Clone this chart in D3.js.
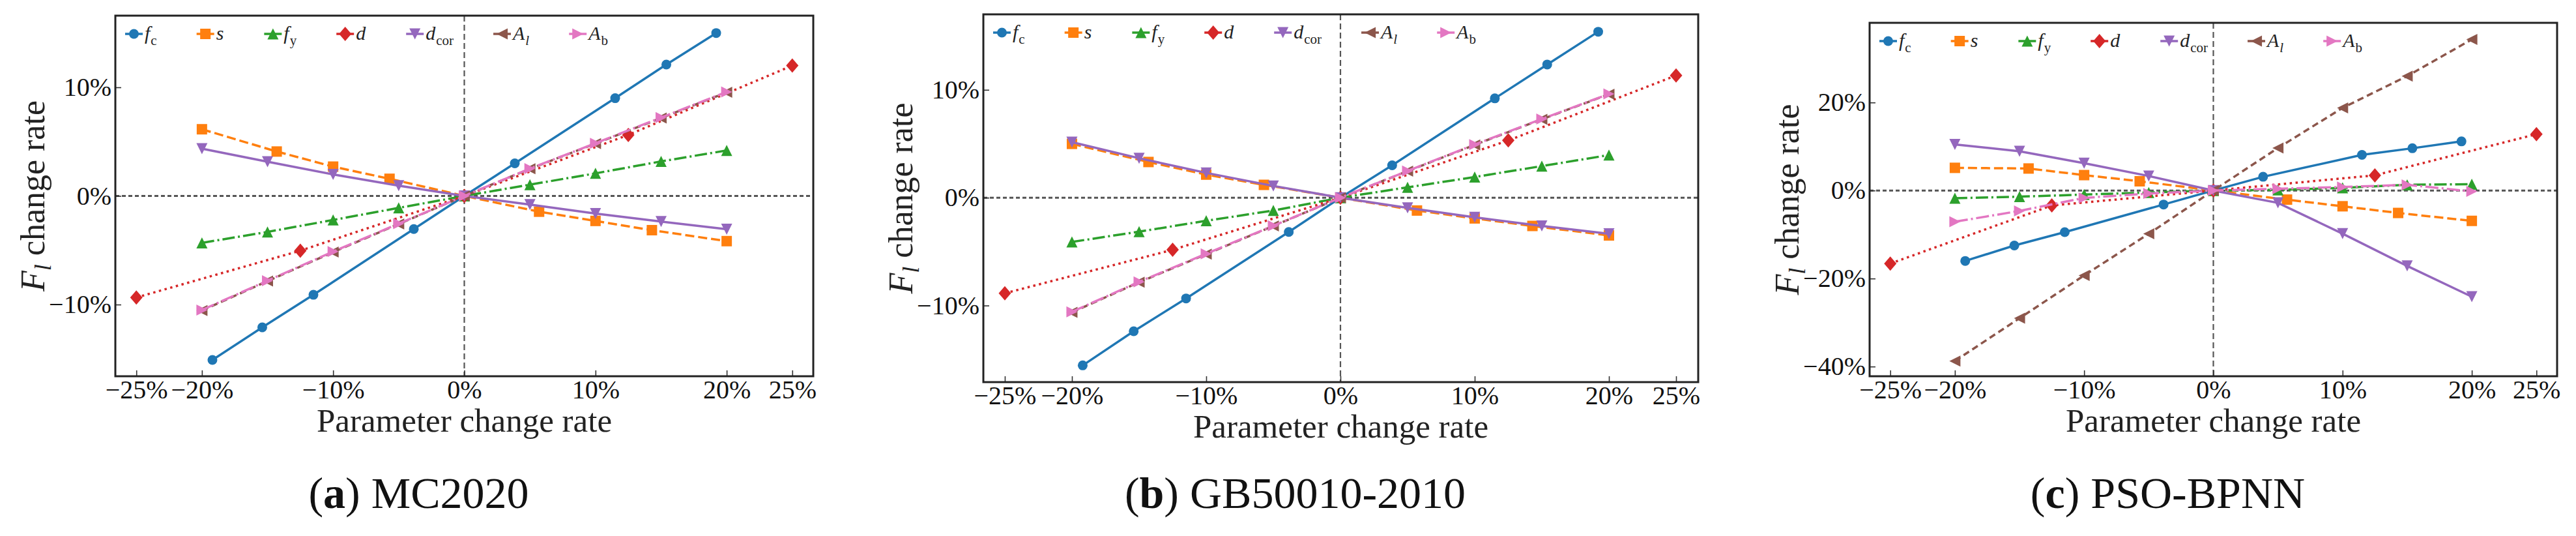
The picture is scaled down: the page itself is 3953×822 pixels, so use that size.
<!DOCTYPE html>
<html>
<head>
<meta charset="utf-8">
<script src="https://cdn.jsdelivr.net/npm/d3@7"></script>
<style>
body { margin: 0; background: #fff; }
svg { display: block; font-family: "Liberation Serif", "Times New Roman", serif; }
</style>
</head>
<body>
<svg id="chart" width="3953" height="822"></svg>
<script>
// parameter change rates (%) used by each group of series
var xFc = [-19.2, -15.4, -11.5, -3.85, 0, 3.85, 11.5, 15.4, 19.2];
var xS = [-20, -14.3, -10, -5.7, 0, 5.7, 10, 14.3, 20];
var xStep = [-20, -15, -10, -5, 0, 5, 10, 15, 20];
var xD = [-25, -12.5, 0, 12.5, 25];

var xTicks = [-25, -20, -10, 0, 10, 20, 25];
var yTicksAB = [-10, 0, 10];
var yTicksC = [-40, -20, 0, 20];

// (a) MC2020 - F_l change rate (%)
var mcFc = [-15.1, -12.1, -9.1, -3.05, 0, 3.0, 9.0, 12.1, 15.0];
var mcS = [6.14, 4.09, 2.7, 1.58, 0, -1.45, -2.3, -3.15, -4.16];
var mcFy = [-4.32, -3.31, -2.21, -1.1, 0, 1.04, 2.08, 3.18, 4.19];
var mcD = [-9.35, -5.04, 0, 5.62, 12.0];
var mcDcor = [4.35, 3.15, 1.98, 0.94, 0, -0.8, -1.62, -2.36, -3.06];
var mcAl = [-10.55, -7.84, -5.17, -2.58, 0, 2.5, 4.82, 7.18, 9.54];
var mcAb = [-10.5, -7.8, -5.12, -2.55, 0, 2.52, 4.85, 7.22, 9.58];

// (b) GB50010-2010
var gbFc = [-15.55, -12.38, -9.34, -3.18, 0, 3.0, 9.21, 12.35, 15.39];
var gbS = [4.99, 3.31, 2.14, 1.19, 0, -1.19, -1.92, -2.62, -3.5];
var gbFy = [-4.1, -3.15, -2.14, -1.19, 0, 0.96, 1.92, 2.93, 3.95];
var gbD = [-8.86, -4.83, 0, 5.31, 11.33];
var gbDcor = [5.15, 3.66, 2.3, 1.09, 0, -0.94, -1.82, -2.62, -3.34];
var gbAl = [-10.63, -7.84, -5.24, -2.62, 0, 2.46, 4.9, 7.27, 9.59];
var gbAb = [-10.58, -7.8, -5.2, -2.6, 0, 2.48, 4.93, 7.3, 9.62];

// (c) PSO-BPNN
var psoFc = [-16.0, -12.5, -9.46, -3.18, 0, 3.12, 8.1, 9.6, 11.16];
var psoS = [5.15, 5.0, 3.5, 2.1, 0, -2.07, -3.58, -5.1, -6.9];
var psoFy = [-1.75, -1.4, -0.92, -0.45, 0, 0.15, 0.6, 1.3, 1.45];
var psoD = [-16.6, -3.4, 0, 3.45, 12.8];
var psoDcor = [10.46, 8.92, 6.2, 3.3, 0, -2.8, -9.8, -17.14, -24.13];
var psoAl = [-38.74, -29.02, -19.3, -9.83, 0, 9.67, 18.77, 26.0, 34.33];
var psoAb = [-7.1, -4.64, -1.68, -0.69, 0, 0.4, 0.79, 1.29, -0.2];

// legend labels: main symbol + subscript
var labelMain = ["f", "s", "f", "d", "d", "A", "A"];
var labelSub = ["c", "", "y", "", "cor", "l", "b"];
var labelSubItalic = [false, false, false, false, false, true, false];

var colors = ["#1f77b4", "#ff7f0e", "#2ca02c", "#d62728", "#9467bd", "#8c564b", "#e377c2"];
var dashes = [null, "14,6", "19,5,3,5", "3.5,5.5", null, "10,6", "20,5,3,5"];
var markers = ["circle", "square", "up", "diamond", "down", "left", "right"];

var svg = d3.select("#chart");

function markerPath(type) {
	var h = 8.5;
	if (type == "circle") return d3.symbol(d3.symbolCircle, Math.PI * 7.5 * 7.5)();
	if (type == "square") return "M-8,-8H8V8H-8Z";
	if (type == "diamond") return "M0,-11L9.5,0L0,11L-9.5,0Z";
	if (type == "up") return "M0," + (-h) + "L" + h + "," + h + "L" + (-h) + "," + h + "Z";
	if (type == "down") return "M0," + h + "L" + h + "," + (-h) + "L" + (-h) + "," + (-h) + "Z";
	if (type == "left") return "M" + (-h) + ",0L" + h + "," + (-h) + "L" + h + "," + h + "Z";
	return "M" + h + ",0L" + (-h) + "," + (-h) + "L" + (-h) + "," + h + "Z";
}

function pct(d) {
	return (d < 0 ? "\u2212" : "") + Math.abs(d) + "%";
}

function drawPanel(p) {
	var x = d3.scaleLinear().domain(p.xDomain).range([p.left, p.right]);
	var y = d3.scaleLinear().domain(p.yDomain).range([p.bottom, p.top]);
	var g = svg.append("g");

	// zero reference lines
	g.append("line")
		.attr("x1", p.left).attr("x2", p.right)
		.attr("y1", y(0)).attr("y2", y(0))
		.attr("stroke", "#555")
		.attr("stroke-width", 3)
		.attr("stroke-dasharray", "6,4");
	g.append("line")
		.attr("x1", x(0)).attr("x2", x(0))
		.attr("y1", p.top).attr("y2", p.bottom)
		.attr("stroke", "#555")
		.attr("stroke-width", 2.2)
		.attr("stroke-dasharray", "9,5");

	var line = d3.line()
		.x(function(d) { return x(d[0]); })
		.y(function(d) { return y(d[1]); });

	p.series.forEach(function(vals, i) {
		var pts = d3.zip(p.xs[i], vals);
		g.append("path")
			.datum(pts)
			.attr("d", line)
			.attr("fill", "none")
			.attr("stroke", colors[i])
			.attr("stroke-width", 3.5)
			.attr("stroke-dasharray", dashes[i]);
		g.selectAll(null)
			.data(pts)
			.enter()
			.append("path")
			.attr("d", markerPath(markers[i]))
			.attr("transform", function(d) { return "translate(" + x(d[0]) + "," + y(d[1]) + ")"; })
			.attr("fill", colors[i]);
	});

	// axes with inward ticks
	var xa = g.append("g")
		.attr("transform", "translate(0," + p.bottom + ")")
		.call(d3.axisBottom(x).tickValues(xTicks).tickFormat(pct).tickSize(-9).tickPadding(6));
	var ya = g.append("g")
		.attr("transform", "translate(" + p.left + ",0)")
		.call(d3.axisLeft(y).tickValues(p.yTicks).tickFormat(pct).tickSize(-9).tickPadding(6));
	[xa, ya].forEach(function(a) {
		a.select(".domain").remove();
		a.selectAll(".tick line").attr("stroke", "#333").attr("stroke-width", 1.6);
		a.selectAll(".tick text")
			.attr("fill", "#111")
			.style("font-family", "'Liberation Serif', 'Times New Roman', serif")
			.style("font-size", "40px");
	});

	// frame
	g.append("rect")
		.attr("x", p.left).attr("y", p.top)
		.attr("width", p.right - p.left)
		.attr("height", p.bottom - p.top)
		.attr("fill", "none")
		.attr("stroke", "#222")
		.attr("stroke-width", 3);

	// legend in one row
	var lg = g.append("g").attr("transform", "translate(" + (p.left + 15) + "," + (p.top + 28) + ")");
	var cx = 0;
	labelMain.forEach(function(m, i) {
		lg.append("line")
			.attr("x1", cx).attr("x2", cx + 27)
			.attr("y1", 0).attr("y2", 0)
			.attr("stroke", colors[i])
			.attr("stroke-width", 3.5);
		lg.append("path")
			.attr("d", markerPath(markers[i]))
			.attr("transform", "translate(" + (cx + 13.5) + ",0)")
			.attr("fill", colors[i]);
		var t = lg.append("text")
			.attr("x", cx + 30)
			.attr("y", 9)
			.attr("fill", "#222")
			.style("font-size", "30px");
		t.append("tspan").style("font-style", "italic").text(m);
		if (labelSub[i]) {
			t.append("tspan")
				.attr("dx", 1)
				.attr("dy", 8)
				.style("font-size", "21px")
				.style("font-style", labelSubItalic[i] ? "italic" : "normal")
				.text(labelSub[i]);
		}
		cx += 30 + t.node().getComputedTextLength() + 62;
	});

	// axis titles
	g.append("text")
		.attr("x", (p.left + p.right) / 2)
		.attr("y", p.bottom + 85)
		.attr("text-anchor", "middle")
		.attr("fill", "#222")
		.style("font-size", "51px")
		.text("Parameter change rate");

	var yl = g.append("text")
		.attr("transform", "translate(" + (p.left - 127) + "," + ((p.top + p.bottom) / 2) + ") rotate(-90)")
		.attr("text-anchor", "middle")
		.attr("dy", "0.35em")
		.attr("fill", "#222")
		.style("font-size", "52px");
	yl.append("tspan").style("font-style", "italic").text("F");
	yl.append("tspan").style("font-style", "italic").style("font-size", "36px").attr("dy", 10).text("l");
	yl.append("tspan").attr("dy", -10).text(" change rate");

	// caption
	var cap = g.append("text")
		.attr("x", (p.left + p.right) / 2 - 70)
		.attr("y", 779)
		.attr("text-anchor", "middle")
		.attr("fill", "#111")
		.style("font-size", "68px");
	cap.append("tspan").text("(");
	cap.append("tspan").style("font-weight", "bold").text(p.tag);
	cap.append("tspan").text(") " + p.name);
}

var xsAll = [xFc, xS, xStep, xD, xStep, xStep, xStep];

drawPanel({
	tag: "a", name: "MC2020",
	left: 177, right: 1248, top: 24, bottom: 577,
	xDomain: [-26.6, 26.6], yDomain: [-16.6, 16.6], yTicks: yTicksAB,
	xs: xsAll,
	series: [mcFc, mcS, mcFy, mcD, mcDcor, mcAl, mcAb]
});

drawPanel({
	tag: "b", name: "GB50010-2010",
	left: 1509, right: 2606, top: 22, bottom: 586,
	xDomain: [-26.6, 26.65], yDomain: [-17.1, 17.0], yTicks: yTicksAB,
	xs: xsAll,
	series: [gbFc, gbS, gbFy, gbD, gbDcor, gbAl, gbAb]
});

drawPanel({
	tag: "c", name: "PSO-BPNN",
	left: 2869, right: 3924, top: 35, bottom: 577,
	xDomain: [-26.6, 26.6], yDomain: [-42.2, 38.1], yTicks: yTicksC,
	xs: xsAll,
	series: [psoFc, psoS, psoFy, psoD, psoDcor, psoAl, psoAb]
});
</script>
</body>
</html>
